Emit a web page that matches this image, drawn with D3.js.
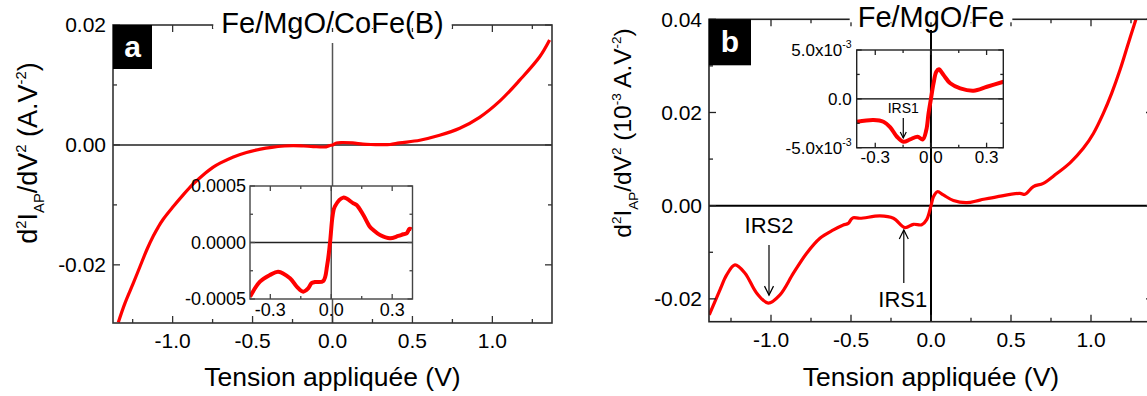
<!DOCTYPE html>
<html><head><meta charset="utf-8">
<script src="https://cdnjs.cloudflare.com/ajax/libs/d3/7.8.5/d3.min.js"></script>
<style>
body{margin:0;background:#fff}
svg{display:block}
text{font-family:"Liberation Sans",Arial,Helvetica,sans-serif;fill:#000}
</style>
</head><body>
<svg id="c" width="1147" height="396"></svg>
<script>
// ---------------- DATA ----------------
// Panel a: Fe/MgO/CoFe(B), main curve
const aMainV = [-1.34,-1.298,-1.246,-1.204,-1.16,-1.121,-1.09,-1.059,-0.996,-0.934,-0.871,-0.809,-0.746,-0.70,-0.62,-0.538,-0.45,-0.38,-0.30,-0.246,-0.18,-0.121,-0.04,-0.017,0,0.025,0.06,0.125,0.19,0.24,0.296,0.36,0.42,0.546,0.67,0.796,0.92,1.046,1.171,1.296,1.358];
const aMainD = [-0.0296,-0.02638,-0.02305,-0.02028,-0.0174,-0.0152,-0.0137,-0.0124,-0.01028,-0.00833,-0.0065,-0.005,-0.0037,-0.003,-0.002,-0.00125,-0.0007,-0.0004,-0.00018,-0.00011,-0.00018,-0.00028,-0.00032,-0.0001,0,0.00033,0.0004,0.00033,0.00014,0.00007,0.00004,0.00007,0.00033,0.00078,0.0016,0.00278,0.0046,0.0073,0.0108,0.0147,0.0175];
// Panel a inset
const aInsV = [-0.4,-0.351,-0.302,-0.261,-0.203,-0.17,-0.138,-0.113,-0.097,-0.08,-0.039,-0.02,-0.006,0.007,0.018,0.059,0.108,0.125,0.158,0.19,0.207,0.24,0.289,0.33,0.355,0.371,0.385,0.396];
const aInsD = [-0.00048,-0.000347,-0.000288,-0.000258,-0.000317,-0.00039,-0.000435,-0.000405,-0.00036,-0.00035,-0.00034,-0.0002,0,0.00024,0.00032,0.000397,0.000348,0.000332,0.000243,0.00014,0.00011,0.000066,0.000037,0.000058,0.000073,0.000081,0.00012,0.000117];
// Panel b: Fe/MgO/Fe, main curve
const bMainV = [-1.386,-1.319,-1.277,-1.225,-1.1625,-1.089,-1.017,-0.944,-0.86,-0.777,-0.694,-0.61,-0.548,-0.517,-0.5,-0.486,-0.444,-0.319,-0.235,-0.1625,-0.11,-0.058,-0.027,0,0.015,0.04,0.077,0.14,0.223,0.306,0.41,0.556,0.5875,0.64,0.702,0.786,0.869,0.952,1.015,1.077,1.129,1.181,1.233,1.281,1.31];
const bMainD = [-0.02342,-0.01806,-0.01485,-0.01271,-0.01449,-0.01878,-0.02092,-0.01914,-0.01449,-0.0102,-0.00699,-0.00521,-0.00414,-0.0038,-0.003,-0.00257,-0.0027,-0.0022,-0.0027,-0.0047,-0.004,-0.0041,-0.003,0,0.0019,0.003,0.0023,0.0011,0.00064,0.0012,0.0019,0.00266,0.00244,0.0041,0.0048,0.0069,0.0092,0.0123,0.0155,0.0198,0.0241,0.0291,0.0348,0.04,0.043];
// Panel b inset
const bInsV = [-0.399,-0.309,-0.256,-0.219,-0.183,-0.148,-0.112,-0.072,-0.044,-0.025,-0.013,0,0.014,0.029,0.043,0.068,0.104,0.158,0.23,0.302,0.391];
const bInsD = [-0.00234,-0.00217,-0.00234,-0.00292,-0.00388,-0.00439,-0.00415,-0.00388,-0.00415,-0.0032,-0.0015,0,0.00159,0.00277,0.00302,0.00244,0.00159,0.00107,0.00083,0.00124,0.00175];

// Tick values / labels
const mainXTicks = [-1,-0.5,0,0.5,1];
const mainXLabels = ["-1.0","-0.5","0.0","0.5","1.0"];
const mainXMinor = [-1.25,-0.75,-0.25,0.25,0.75,1.25];
const aYTicks = [-0.02,0,0.02];
const aYLabels = ["-0.02","0.00","0.02"];
const aYMinor = [-0.01,0.01];
const bYTicks = [-0.02,0,0.02,0.04];
const bYLabels = ["-0.02","0.00","0.02","0.04"];
const bYMinor = [-0.01,0.01,0.03];
const insXTicks = [-0.3,0,0.3];
const insXLabels = ["-0.3","0.0","0.3"];
const insXMinor = [-0.15,0.15];
const aInsYTicks = [-0.0005,0,0.0005];
const aInsYLabels = ["-0.0005","0.0000","0.0005"];
const aInsYMinor = [-0.00025,0.00025];
const bInsYTicks = [-0.005,0,0.005];
const bInsYLabels = [["-5.0x10","-3"],["0.0",""],["5.0x10","-3"]];
const bInsYMinor = [-0.0025,0.0025];

const titles = ["Fe/MgO/CoFe(B)","Fe/MgO/Fe"];
const xTitle = "Tension appliquée (V)";
const yTitleA = [{t:"d"},{t:"2",k:"sup"},{t:"I"},{t:"AP",k:"sub"},{t:"/dV"},{t:"2",k:"sup"},{t:" (A.V"},{t:"-2",k:"sup"},{t:")"}];
const yTitleB = [{t:"d"},{t:"2",k:"sup"},{t:"I"},{t:"AP",k:"sub"},{t:"/dV"},{t:"2",k:"sup"},{t:" (10"},{t:"-3",k:"sup"},{t:" A.V"},{t:"-2",k:"sup"},{t:")"}];
const bAnnot = [{label:"IRS2",x:-1.0125,ty:245,y2:-0.0192,dir:"down"},{label:"IRS1",x:-0.17,ty:283,y2:-0.0052,dir:"up"}];
const bInsAnnot = {label:"IRS1",x:-0.149,y2:-0.0040};

// ---------------- DRAW ----------------
const svg = d3.select("#c");
const RED = "#ff0000";

function rich(g, parts, size, ratio) {
  const t = g.append("text").attr("font-size", size).style("white-space","pre");
  let cur = 0;
  parts.forEach(p => {
    const sh = p.k === "sup" ? -0.42*size : p.k === "sub" ? 0.27*size : 0;
    const fs = p.k ? ratio*size : size;
    t.append("tspan").attr("dy", sh - cur).attr("font-size", fs).text(p.t);
    cur = sh;
  });
  return t;
}

function ticks(g, x, y, xt, xm, yt, ym, maj, min, col) {
  const [x0,x1] = x.range(), [y0,y1] = y.range();
  const tg = g.append("g").attr("stroke", col).attr("stroke-width", 1.3);
  xt.forEach(v=>{ tg.append("line").attr("x1",x(v)).attr("x2",x(v)).attr("y1",y0).attr("y2",y0-maj);
                  tg.append("line").attr("x1",x(v)).attr("x2",x(v)).attr("y1",y1).attr("y2",y1+maj);});
  xm.forEach(v=>{ tg.append("line").attr("x1",x(v)).attr("x2",x(v)).attr("y1",y0).attr("y2",y0-min);
                  tg.append("line").attr("x1",x(v)).attr("x2",x(v)).attr("y1",y1).attr("y2",y1+min);});
  yt.forEach(v=>{ tg.append("line").attr("y1",y(v)).attr("y2",y(v)).attr("x1",x0).attr("x2",x0+maj);
                  tg.append("line").attr("y1",y(v)).attr("y2",y(v)).attr("x1",x1).attr("x2",x1-maj);});
  ym.forEach(v=>{ tg.append("line").attr("y1",y(v)).attr("y2",y(v)).attr("x1",x0).attr("x2",x0+min);
                  tg.append("line").attr("y1",y(v)).attr("y2",y(v)).attr("x1",x1).attr("x2",x1-min);});
}

function arrow(g, xp, yFrom, yTo, head) {
  g.append("line").attr("x1",xp).attr("x2",xp).attr("y1",yFrom).attr("y2",yTo).attr("stroke","#000").attr("stroke-width",1.2);
  const s = yTo > yFrom ? -1 : 1;
  g.append("path").attr("d",`M${xp-head*0.5},${yTo+s*head} L${xp},${yTo} L${xp+head*0.5},${yTo+s*head}`)
    .attr("fill","none").attr("stroke","#000").attr("stroke-width",1.2);
}

function panel(cfg) {
  const g = svg.append("g");
  const x = d3.scaleLinear().domain(cfg.xd).range(cfg.xr);
  const y = d3.scaleLinear().domain(cfg.yd).range(cfg.yr);
  const [L,R] = cfg.xr, [B,T] = cfg.yr;
  const cid = "clip"+cfg.id;
  svg.append("clipPath").attr("id",cid).append("rect").attr("x",L).attr("y",T).attr("width",R-L).attr("height",B-T);

  // zero lines
  g.append("line").attr("x1",L).attr("x2",R).attr("y1",y(0)).attr("y2",y(0)).attr("stroke",cfg.hz).attr("stroke-width",cfg.zw);
  g.append("line").attr("x1",x(0)).attr("x2",x(0)).attr("y1",cfg.vTop).attr("y2",B).attr("stroke",cfg.vz).attr("stroke-width",cfg.zw);

  // curve
  const line = d3.line().x(d=>x(d[0])).y(d=>y(d[1])).curve(d3.curveCatmullRom.alpha(0.5));
  g.append("path").datum(d3.zip(cfg.vx, cfg.vy)).attr("d",line).attr("fill","none").attr("stroke",RED)
    .attr("stroke-width",3.2).attr("stroke-linejoin","round").attr("clip-path",`url(#${cid})`);

  // frame
  g.append("rect").attr("x",L).attr("y",T).attr("width",R-L).attr("height",B-T).attr("fill","none").attr("stroke",cfg.fc).attr("stroke-width",1.6);
  ticks(g,x,y,mainXTicks,mainXMinor,cfg.yt,cfg.ym,7,4,cfg.fc);

  // tick labels
  mainXTicks.forEach((v,i)=>g.append("text").attr("x",x(v)).attr("y",B+25).attr("text-anchor","middle").attr("font-size",21).text(mainXLabels[i]));
  cfg.yt.forEach((v,i)=>g.append("text").attr("x",L-7).attr("y",y(v)).attr("dy","0.35em").attr("text-anchor","end").attr("font-size",21).text(cfg.yl[i]));

  // axis titles
  g.append("text").attr("x",x(0)).attr("y",386).attr("text-anchor","middle").attr("font-size",26.5).text(xTitle);
  const yt = rich(g.append("g").attr("transform",`translate(${cfg.ytx},${cfg.yty}) rotate(-90)`), cfg.ytitle, cfg.yts, 0.55);
  yt.attr("text-anchor","middle");

  // title with white background
  const tt = g.append("text").attr("x",x(0)).attr("y",T+8).attr("text-anchor","middle").attr("font-size",29).text(cfg.title);
  const bb = tt.node().getBBox();
  g.insert("rect", () => tt.node()).attr("x",bb.x-8).attr("y",T-3).attr("width",bb.width+16).attr("height",6).attr("fill","#fff");

  // letter box
  g.append("rect").attr("x",L).attr("y",T).attr("width",cfg.lw).attr("height",cfg.lh).attr("fill","#000");
  g.append("text").attr("x",L+cfg.lw/2).attr("y",T+cfg.lh/2).attr("dy","0.33em").attr("text-anchor","middle")
    .attr("font-family","'Liberation Serif','Times New Roman',serif").attr("font-weight","bold").attr("font-size",30)
    .style("fill","#fff").text(cfg.letter);

  // inset
  const ic = cfg.inset;
  const ix = d3.scaleLinear().domain(ic.xd).range(ic.xr);
  const iy = d3.scaleLinear().domain(ic.yd).range(ic.yr);
  const [iL,iR] = ic.xr, [iB,iT] = ic.yr;
  const ig = g.append("g");
  ig.append("rect").attr("x",iL).attr("y",iT).attr("width",iR-iL).attr("height",iB-iT).attr("fill","#fff");
  ig.append("line").attr("x1",iL).attr("x2",iR).attr("y1",iy(0)).attr("y2",iy(0)).attr("stroke",cfg.hz).attr("stroke-width",1.4);
  ig.append("line").attr("x1",ix(0)).attr("x2",ix(0)).attr("y1",iT).attr("y2",iB).attr("stroke",cfg.vz).attr("stroke-width",cfg.zw);
  const icid = "iclip"+cfg.id;
  svg.append("clipPath").attr("id",icid).append("rect").attr("x",iL).attr("y",iT-2).attr("width",iR-iL+2).attr("height",iB-iT+2);
  const iline = d3.line().x(d=>ix(d[0])).y(d=>iy(d[1])).curve(d3.curveCatmullRom.alpha(0.5));
  ig.append("path").datum(d3.zip(ic.vx, ic.vy)).attr("d",iline).attr("fill","none").attr("stroke",RED)
    .attr("stroke-width",4).attr("stroke-linejoin","round").attr("clip-path",`url(#${icid})`);
  ig.append("rect").attr("x",iL).attr("y",iT).attr("width",iR-iL).attr("height",iB-iT).attr("fill","none").attr("stroke",ic.fc).attr("stroke-width",1.4);
  ticks(ig,ix,iy,insXTicks,insXMinor,ic.yt,ic.ym,5,3,ic.fc);
  insXTicks.forEach((v,i)=>ig.append("text").attr("x",ix(v)).attr("y",iB+ic.xlOff).attr("text-anchor","middle").attr("font-size",ic.fs).text(insXLabels[i]));
  ic.yt.forEach((v,i)=>{
    const lab = ic.yl[i];
    const t = ig.append("text").attr("x",iL-ic.ylPad).attr("y",iy(v)).attr("dy","0.35em").attr("text-anchor","end").attr("font-size",ic.fs);
    if (Array.isArray(lab)) {
      t.append("tspan").text(lab[0]);
      if (lab[1]) t.append("tspan").attr("font-size",ic.fs*0.62).attr("dy",-ic.fs*0.45).text(lab[1]);
    } else t.text(lab);
  });
  return {g,x,y,ig,ix,iy};
}

// Panel a
const pa = panel({
  id:"a", letter:"a", title:titles[0],
  xd:[-1.373,1.373], xr:[113,552], yd:[-0.0297,0.02], yr:[323,25],
  vx:aMainV, vy:aMainD, yt:aYTicks, yl:aYLabels, ym:aYMinor,
  hz:"#222", vz:"#555", zw:1.5, vTop:43, fc:"#333",
  ytx:37, yty:153, yts:27, ytitle:yTitleA, lw:39, lh:44,
  inset:{xd:[-0.4,0.4], xr:[250,412.5], yd:[-0.0005,0.0005], yr:[299,186], vx:aInsV, vy:aInsD,
         yt:aInsYTicks, yl:aInsYLabels, ym:aInsYMinor, fc:"#444", fs:18, xlOff:17, ylPad:4}
});

// Panel b
const pb = panel({
  id:"b", letter:"b", title:titles[1],
  xd:[-1.3875,1.3875], xr:[709,1153], yd:[-0.0249,0.04], yr:[321.7,19.3],
  vx:bMainV, vy:bMainD, yt:bYTicks, yl:bYLabels, ym:bYMinor,
  hz:"#000", vz:"#000", zw:2, vTop:30, fc:"#222",
  ytx:631, yty:133, yts:24.5, ytitle:yTitleB, lw:42, lh:46,
  inset:{xd:[-0.4,0.39], xr:[856.7,1003.3], yd:[-0.005,0.005], yr:[147.7,50], vx:bInsV, vy:bInsD,
         yt:bInsYTicks, yl:bInsYLabels, ym:bInsYMinor, fc:"#222", fs:17, xlOff:15, ylPad:5}
});

// Annotations panel b
bAnnot.forEach(a=>{
  const xp = pb.x(a.x);
  if (a.dir === "down") {
    pb.g.append("text").attr("x",xp).attr("y",a.ty-12).attr("text-anchor","middle").attr("font-size",22).text(a.label);
  } else {
    pb.g.append("text").attr("x",xp-1).attr("y",a.ty+24).attr("text-anchor","middle").attr("font-size",22).text(a.label);
  }
  arrow(pb.g, xp, a.ty, pb.y(a.y2), 9);
});
{
  const xp = pb.ix(bInsAnnot.x);
  pb.ig.append("text").attr("x",xp).attr("y",113).attr("text-anchor","middle").attr("font-size",14).text(bInsAnnot.label);
  arrow(pb.ig, xp, 118, pb.iy(bInsAnnot.y2), 6);
}
</script>
</body></html>
